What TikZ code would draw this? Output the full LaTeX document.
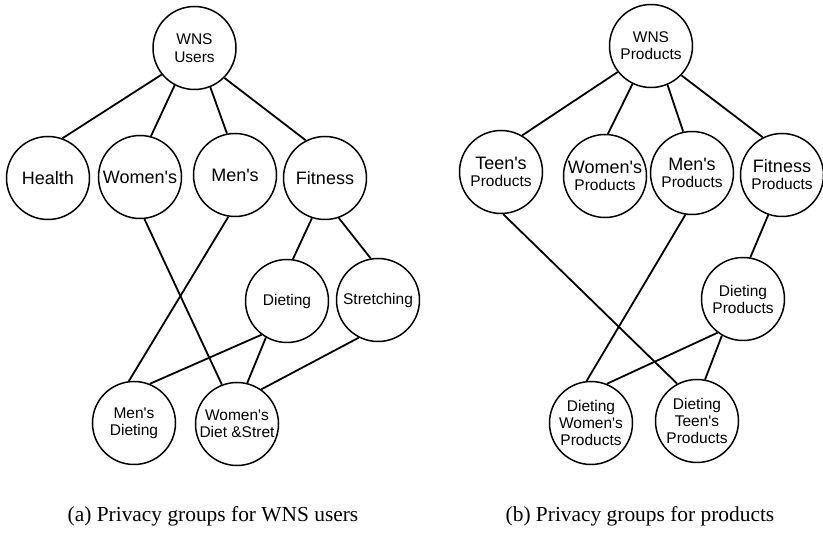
\documentclass[tikz,border=0pt]{standalone}
\usepackage{fontspec}
\setmainfont{Liberation Serif}
\newfontfamily\grpfont{Liberation Sans}
\begin{document}
\begin{tikzpicture}[x=1pt,y=-1pt,
  grp/.style={circle,draw,line width=1.5pt,minimum size=83pt,inner sep=0pt,
    align=center,font=\grpfont\fontsize{15.5}{17}\selectfont},
  big/.style={font=\grpfont\fontsize{18}{20}\selectfont},
  link/.style={line width=1.8pt},
  captext/.style={font=\fontsize{21.4}{25}\selectfont}]
\useasboundingbox (0,0) rectangle (823,534);

% (a) groups of WNS users
\node[grp] (users) at (194.5,48) {WNS\\[1pt]Users};
\node[grp,big] (health) at (48,178) {Health};
\node[grp,big] (women) at (140,177) {Women's};
\node[grp,big] (men) at (235,175) {Men's};
\node[grp,big] (fitness) at (325,178) {Fitness};
\node[grp] (dieting) at (287,301) {Dieting};
\node[grp] (stretch) at (378,300) {Stretching};
\node[grp] (mendiet) at (134,423) {Men's\\Dieting};
\node[grp] (womends) at (237,424) {Women's\\Diet \&Stret};

\draw[link] (users.219) -- (health.70);
\draw[link] (users.242) -- (women.75);
\draw[link] (users.292) -- (men.101);
\draw[link] (users.315) -- (fitness.117);
\draw[link] (women.276) -- (womends.111);
\draw[link] (men.261) -- (mendiet.97);
\draw[link] (fitness.252) -- (dieting.82);
\draw[link] (fitness.289) -- (stretch.100);
\draw[link] (dieting.233) -- (mendiet.68);
\draw[link] (dieting.240) -- (womends.76);
\draw[link] (stretch.243) -- (womends.55);

\node[captext] (capa) at (213,516) {(a) Privacy groups for WNS users};

% (b) groups of products
\node[grp] (prod) at (651,46) {{\fontsize{15.5}{17}\selectfont WNS}\\Products};
\node[grp] (teen) at (501,172) {{\fontsize{18}{20}\selectfont Teen's}\\Products};
\node[grp] (wprod) at (605,176) {{\fontsize{18}{20}\selectfont Women's}\\Products};
\node[grp] (mprod) at (692,173) {{\fontsize{18}{20}\selectfont Men's}\\Products};
\node[grp] (fprod) at (782,175) {{\fontsize{18}{20}\selectfont Fitness}\\Products};
\node[grp] (dprod) at (743,299) {Dieting\\Products};
\node[grp] (dwprod) at (591,423) {Dieting\\Women's\\Products};
\node[grp] (dtprod) at (697,421) {Dieting\\Teen's\\Products};

\draw[link] (prod.218) -- (teen.60);
\draw[link] (prod.244) -- (wprod.86);
\draw[link] (prod.293) -- (mprod.102);
\draw[link] (prod.316) -- (fprod.117);
\draw[link] (teen.273) -- (dtprod.118);
\draw[link] (mprod.261) -- (dwprod.96);
\draw[link] (fprod.251) -- (dprod.80);
\draw[link] (dprod.233) -- (dwprod.68);
\draw[link] (dprod.240) -- (dtprod.79);

\node[captext] (capb) at (640,516) {(b) Privacy groups for products};
\end{tikzpicture}
\end{document}
